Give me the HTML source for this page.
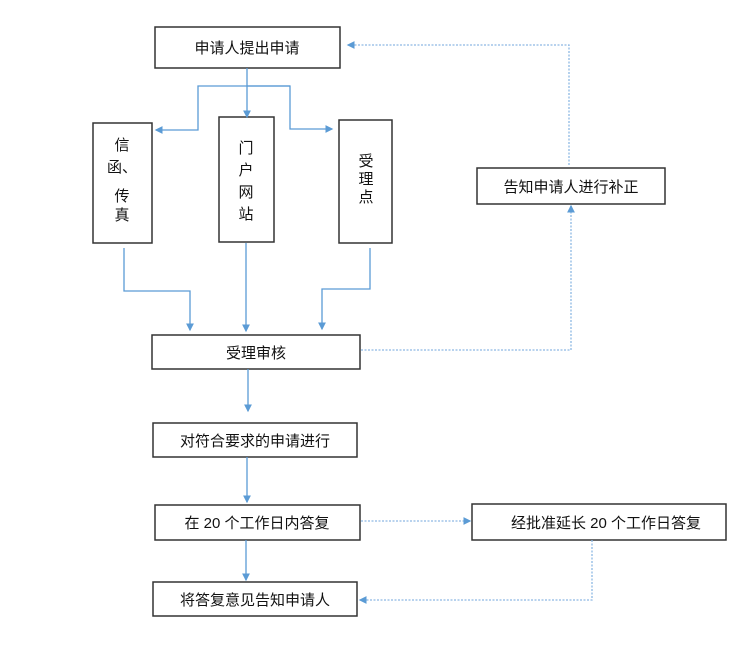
<!DOCTYPE html>
<html><head><meta charset="utf-8"><style>
html,body{margin:0;padding:0;background:#fff;width:750px;height:645px;overflow:hidden}
text{font-family:"Liberation Sans","Noto Sans CJK SC",sans-serif;font-size:15px;fill:#111}
</style></head><body>
<svg width="750" height="645" viewBox="0 0 750 645" xmlns="http://www.w3.org/2000/svg">
<defs>
<marker id="a" markerWidth="6" markerHeight="6" refX="5" refY="3" orient="auto"><path d="M0,0 L6,3 L0,6 z" fill="#5b9bd5"/></marker>
</defs>
<g fill="none" stroke="#333" stroke-width="1.5">
<rect x="155" y="27" width="185" height="41"/>
<rect x="93" y="123" width="59" height="120"/>
<rect x="219" y="117" width="55" height="125"/>
<rect x="339" y="120" width="53" height="123"/>
<rect x="477" y="168" width="188" height="36"/>
<rect x="152" y="335" width="208" height="34"/>
<rect x="153" y="423" width="204" height="34"/>
<rect x="155" y="505" width="205" height="35"/>
<rect x="472" y="504" width="254" height="36"/>
<rect x="153" y="582" width="204" height="34"/>
</g>
<g fill="none" stroke="#5b9bd5" stroke-width="1.3">
<path d="M247,68 V117" marker-end="url(#a)"/>
<path d="M290,86 H198 V130 H156" marker-end="url(#a)"/>
<path d="M247,86 H290 V129 H332" marker-end="url(#a)"/>
<path d="M124,248 V291 H190 V330" marker-end="url(#a)"/>
<path d="M246,243 V331" marker-end="url(#a)"/>
<path d="M370,248 V289 H322 V329" marker-end="url(#a)"/>
<path d="M248,369 V411" marker-end="url(#a)"/>
<path d="M247,457 V502" marker-end="url(#a)"/>
<path d="M246,540 V580" marker-end="url(#a)"/>
</g>
<g fill="none" stroke="#8db8e3" stroke-width="1.3" stroke-dasharray="2,1.5">
<path d="M361,350 H571 V206" marker-end="url(#a)"/>
<path d="M569,165 V45 H348" marker-end="url(#a)"/>
<path d="M361,521 H470" marker-end="url(#a)"/>
<path d="M592,540 V600 H360" marker-end="url(#a)"/>
</g>
<text x="247" y="53" text-anchor="middle" font-size="16">申请人提出申请</text>
<text x="122" y="150" text-anchor="middle">信</text>
<text x="122" y="172" text-anchor="middle">函、</text>
<text x="122" y="201" text-anchor="middle">传</text>
<text x="122" y="220" text-anchor="middle">真</text>
<text x="246" y="153" text-anchor="middle">门</text>
<text x="246" y="175" text-anchor="middle">户</text>
<text x="246" y="197" text-anchor="middle">网</text>
<text x="246" y="219" text-anchor="middle">站</text>
<text x="366" y="166" text-anchor="middle">受</text>
<text x="366" y="184" text-anchor="middle">理</text>
<text x="366" y="202" text-anchor="middle">点</text>
<text x="571" y="192" text-anchor="middle">告知申请人进行补正</text>
<text x="256" y="358" text-anchor="middle">受理审核</text>
<text x="255" y="446" text-anchor="middle">对符合要求的申请进行</text>
<text x="257" y="528" text-anchor="middle">在 20 个工作日内答复</text>
<text x="606" y="528" text-anchor="middle">经批准延长 20 个工作日答复</text>
<text x="255" y="605" text-anchor="middle">将答复意见告知申请人</text>
</svg>
</body></html>
